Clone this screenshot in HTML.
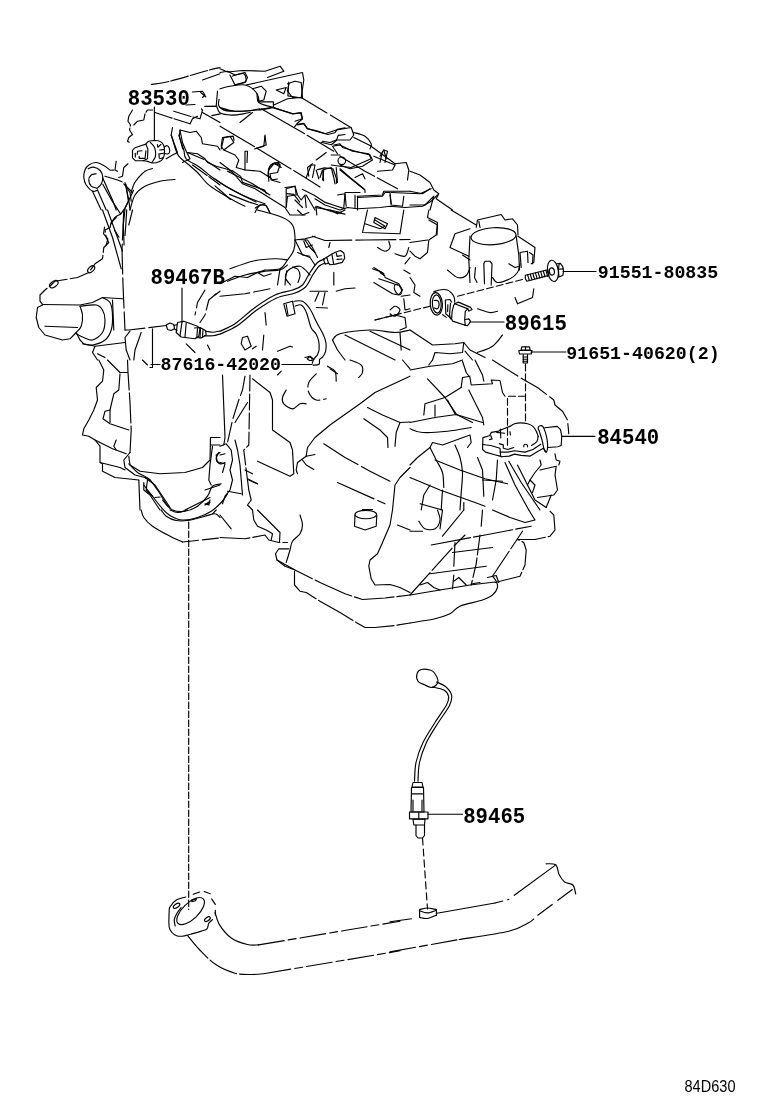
<!DOCTYPE html>
<html><head><meta charset="utf-8"><title>84D630</title>
<style>
html,body{margin:0;padding:0;background:#fff}
body{width:760px;height:1112px;overflow:hidden;position:relative}
svg{position:absolute;left:0;top:0;display:block;will-change:transform}
svg path,svg ellipse,svg line,svg circle{fill:none;stroke:#000;stroke-width:1.15;stroke-linecap:round;stroke-linejoin:round}
.lb{font-family:"Liberation Mono","DejaVu Sans Mono",monospace;font-weight:bold;fill:#000}
.sm{font-family:"Liberation Sans","DejaVu Sans",sans-serif;fill:#000}
</style></head><body>
<svg width="760" height="1112" viewBox="0 0 760 1112">
<g>
<path d="M185.8 897 C184.3 897.5 179.2 898.2 176.6 899.8 C174 901.4 171.3 904.8 170.1 906.7 C168.9 908.6 169.3 907.9 169.2 911.3 C169 914.7 168.7 923.5 169.2 927 C169.7 930.5 170.8 931 172 932.5 C173.2 934 174.9 935.1 176.6 935.7 C178.3 936.3 179.8 936.4 182.1 936.2 C184.4 936 187.2 935.1 190.4 934.3 C193.6 933.4 198.6 932 201.4 931.1 C204.2 930.2 205.8 930.1 207 928.8 C208.2 927.5 207.9 924.8 208.8 923.3 C209.7 921.8 211.9 920.2 212.5 919.6" stroke-width="1.4"/>
<ellipse cx="190.6" cy="911.1" rx="17.6" ry="8" transform="rotate(-44 190.6 911.1)" stroke-width="1.5"/>
<path d="M175.2 926 C175 924.9 174 921.7 174.3 919.6 C174.6 917.5 175.8 915.2 177 913.2 C178.2 911.2 180.5 908.5 181.2 907.6" stroke-width="1.4"/>
<ellipse cx="176.6" cy="905.8" rx="3.7" ry="1.8" transform="rotate(-35 176.6 905.8)"/>
<ellipse cx="207.4" cy="919.1" rx="3.3" ry="1.7" transform="rotate(-35 207.4 919.1)"/>
<path d="M191.8 899.8 L196.4 898.9 L195.5 900.7 L191.8 901.6Z"/>
<path d="M193.2 894.3 L199.6 892" stroke-width="1.4"/>
<path d="M204.2 891.5 L210.2 893.8" stroke-width="1.4"/>
<path d="M211.6 898.9 L215.3 904.4" stroke-width="1.4"/>
<path d="M215.3 910.4 L215.3 915"/>
<path d="M215.1 912.6 C215.9 914.7 217 920.9 219.7 925.1 C222.5 929.4 227 935.1 231.6 938.3 C236.2 941.5 242.9 943.4 247.4 944.5 C251.9 945.6 256.7 944.8 258.6 944.9"/>
<path d="M258.6 944.9 L400 921.2" stroke-dasharray="26 4 8 4"/>
<path d="M187.8 935.7 C189.7 938 194.7 944.6 199.3 949.5 C204 954.3 209.9 960.7 215.8 964.6 C221.7 968.6 228.8 971.5 234.9 973.2 C240.9 974.8 246.9 974.4 252 974.5 C257 974.5 262.9 973.7 265.1 973.5" stroke-dasharray="30 3"/>
<path d="M265.1 973.5 L400 950.8" stroke-dasharray="26 4 8 4"/>
<path d="M390 921.8 L411.6 918.8"/>
<path d="M437 913.2 L495 903"/>
<path d="M495 903 L508.8 899.4" stroke-dasharray="8 5"/>
<path d="M514.3 895.3 L555.8 864.9"/>
<path d="M546.1 863.8 C547.7 863.9 553.6 863.1 555.8 864.9 C558 866.7 557.6 871.7 559.1 874.5 C560.6 877.4 562.3 880.2 564.6 882 C566.9 883.8 571.1 883.1 572.9 885 C574.8 887 575.2 892.4 575.7 893.9"/>
<path d="M390 951.9 L459.1 939.5" stroke-dasharray="26 4 8 4"/>
<path d="M459.1 939.5 C467.4 938.1 497.3 933.9 508.8 931.2 C520.3 928.4 524 924.9 528.2 922.9 C532.3 920.9 532.8 919.7 533.7 919"/>
<path d="M537.8 915.2 L575.1 887.5" stroke-dasharray="18 7"/>
<path d="M419.6 917.4 L419.6 909.6" stroke-width="1.5"/>
<path d="M436.4 915.2 L436.4 909.6" stroke-width="1.5"/>
<path d="M419.6 909.6 C420.9 909.4 424.5 908 427.3 908 C430.1 908 434.9 909.4 436.4 909.6"/>
<path d="M419.6 910.7 C420.9 911.1 424.5 913 427.3 912.9 C430.1 912.9 434.9 910.6 436.4 910.2" stroke-width="1.5"/>
<path d="M419.6 917.4 C420.9 917.6 424.5 918.8 427.3 918.5 C430.1 918.1 434.9 915.7 436.4 915.2" stroke-width="1.5"/>
<path d="M422.5 838 L427.5 909" stroke-dasharray="7 4"/>
<path d="M188.7 522 L188.7 909.5" stroke-dasharray="6.5 2.5"/>
<path d="M417 673.8 C417.5 671.8 419.1 670.1 421.2 669.5 C423.4 668.9 427.8 669.4 430 670 C432.2 670.6 433.2 671.2 434.5 673 C435.8 674.8 437.7 678.5 438 680.5 C438.3 682.5 437.4 683.8 436.2 685 C435.1 686.2 433.3 687.6 431.2 687.5 C429.2 687.4 426 685.5 423.8 684.5 C421.5 683.5 419.1 683 418 681.2 C416.9 679.5 416.5 675.7 417 673.8Z" stroke-width="1.9"/>
<path d="M436.5 682 C438 682.8 443 684.3 445.5 686.5 C448 688.7 450.8 691.8 451.5 695 C452.2 698.2 451.8 700.8 449.5 705.5 C447.2 710.2 441.9 716.8 438 723 C434.1 729.2 429.3 736.4 426.2 743 C423.2 749.6 420.9 756.1 419.5 762.5 C418.1 768.9 418.2 778.1 418 781.2" stroke-width="1.9"/>
<path d="M432.5 687 C434.4 687.5 441.1 688.5 443.8 690 C446.4 691.5 448 693.8 448.5 696.2 C449 698.8 448.8 700.6 446.5 705 C444.2 709.4 438.9 716.2 435 722.5 C431.1 728.8 426.2 735.8 423 742.5 C419.8 749.2 417.4 756 416 762.5 C414.6 769 414.8 778.1 414.5 781.2" stroke-width="1.9"/>
<path d="M413 782.5 L422 782.5 L423 787 L412 787Z" stroke-width="1.9"/>
<path d="M411.5 787.5 L423.5 787.5 L424 812 L411 812Z" stroke-width="1.9"/>
<path d="M412.5 793.8 L422.5 793.8" stroke-width="1.9"/>
<path d="M413 800 L413 811.2" stroke-width="1.9"/>
<path d="M422 800 L422 811.2" stroke-width="1.9"/>
<path d="M409.5 812 L428 812 L428 818.8 L409.5 818.8Z" stroke-width="1.95"/>
<path d="M418.8 812.5 L418.8 818.8" stroke-width="1.9"/>
<path d="M413 819.2 L425 819.2 L424.5 825 L413.8 825Z" stroke-width="1.9"/>
<path d="M416 825 L416 835.5 L418 838 L422.5 838 L424.5 835.5 L424.5 825" stroke-width="1.9"/>
<path d="M428 814.2 L462.5 814.2" stroke-width="1.9"/>
<path d="M154.4 107 L154.4 140.5"/>
<path d="M182 288 L182 322"/>
<path d="M563 271.5 L596 271.5"/>
<path d="M531 352 L566 352" stroke-width="1.95"/>
<path d="M470 322 L504 322" stroke-width="1.65"/>
<path d="M562 436.3 L595 436.3" stroke-width="1.95"/>
<path d="M282 364.5 L312 364.5"/>
<path d="M151 364.5 L160 364.5"/>
<path d="M132.5 150.4 L134.5 148 L140.8 145.7 L145.9 144.1 L147.9 149.2 L147.5 158.7 L143.2 160.7 L135.3 160.7 L132.5 157.9Z" stroke-width="2.0"/>
<path d="M137.2 154.3 L137.6 151.2 L142 150.8" stroke-width="1.6"/>
<path d="M135.3 153.2 L135.3 157.1" stroke-width="1.4"/>
<path d="M139.2 156.3 L139.2 158.3 L145.1 158.3 L145.9 150.8" stroke-width="1.6"/>
<path d="M145.9 144.1 C146.4 143.6 147.6 141.9 148.7 141.3 C149.8 140.8 151.1 140.8 152.6 140.7 C154.2 140.6 156.6 140.3 158.2 140.7 C159.7 141.1 161.1 141.9 162.1 142.9 C163.1 143.9 163.7 145.1 164.1 146.8 C164.5 148.6 164.7 151.2 164.5 153.2 C164.3 155.1 163.7 157.3 162.9 158.7 C162.1 160.1 161.4 160.7 159.7 161.4 C158 162.2 154.7 163 152.6 163 C150.6 163 149.1 161.8 147.5 161.4 C145.9 161.1 143.9 160.8 143.2 160.7" stroke-width="2.0"/>
<path d="M150.3 142.5 C150.9 143.1 153 144.7 153.8 146.1 C154.7 147.4 155.1 149.1 155.4 150.8 C155.7 152.5 155.7 154.7 155.4 156.3 C155.1 157.9 154 159.2 153.4 160.3 C152.8 161.3 152.1 162.2 151.8 162.6" stroke-width="1.5"/>
<path d="M157.4 144.5 L157.8 147.2 L160.9 144.5" stroke-width="1.5"/>
<path d="M159.7 150 L163.7 149.6" stroke-width="1.5"/>
<path d="M158.9 153.9 L159.3 157.9" stroke-width="1.5"/>
<path d="M159.7 153.9 L163.7 153.2" stroke-width="1.5"/>
<path d="M159.7 158.7 L162.9 157.9" stroke-width="1.5"/>
<path d="M164.5 146.8 C164.9 146.6 166.4 145.5 167.2 145.7 C168 145.9 168.8 147 169.2 148 C169.6 149.1 169.8 151 169.6 152 C169.4 153 168.8 153.7 168 153.9 C167.2 154.2 165.4 153.6 164.9 153.6" stroke-width="1.7"/>
<path d="M151.2 84.5 C154.4 84 161 83.5 170 81.2 C179 79 196.7 73.5 205 71.2 C213.3 69 217.5 68.1 220 67.5" stroke-dasharray="18 2"/>
<path d="M202.5 80 L220 73.8"/>
<path d="M132.5 110 L128.8 116.2 L128 121.2 L130.5 125 L129.5 130 L132.5 134.5 L128.8 137.5 L127.5 141.2 L130.5 143" stroke-dasharray="18 2"/>
<path d="M133.8 125 L137.5 121.2 L143.8 120 L145 113.8 L147.5 110 L152.5 110" stroke-dasharray="18 2"/>
<path d="M192.5 92 L202.5 91.2 L205 95 L202.5 97.5"/>
<path d="M186.2 105 L195 104.5"/>
<path d="M205 106.2 L216.2 106.2 L217.5 91.2"/>
<path d="M155 112.5 L170 117.5 L190 123.8" stroke-dasharray="18 2"/>
<path d="M173.8 111.2 L190 116.2 L200 118.8 L202.5 110 L200 107.5" stroke-dasharray="18 2"/>
<path d="M190 123.8 L192.5 118.8 L197.5 116.2"/>
<path d="M172.5 127.5 L171.2 135 L173.8 142.5 L177.5 152.5 L172.5 155 L166.2 158.8"/>
<path d="M180 130 L190 132.5 L196.2 131.2 L201.2 137.5 L202.5 143.8 L210 145 L217.5 146.2 L220 150"/>
<path d="M180 130.5 L182.5 142.5 L186.2 151.2 L190 158.8 L182.5 162.5"/>
<path d="M187.5 152.5 L205 160 L220 170" stroke-dasharray="18 2"/>
<path d="M192.5 165 L210 177.5 L220 185" stroke-dasharray="18 2"/>
<path d="M202.5 112.5 L220 122.5"/>
<path d="M113.8 170 C113.1 170 111.5 170.6 110 170 C108.5 169.4 107.3 167.5 105 166.2 C102.7 165 99 162.7 96.2 162.5 C93.5 162.3 90.6 163.8 88.8 165 C86.9 166.2 85.8 167.9 85 170 C84.2 172.1 83.5 175 83.8 177.5 C84 180 84.8 182.7 86.2 185 C87.7 187.3 90.6 190.4 92.5 191.2 C94.4 192.1 96.7 190.2 97.5 190"/>
<path d="M96.2 173.8 C95.4 174 92.5 174 91.2 175 C90 176 88.8 178.1 88.8 180 C88.8 181.9 90 184.9 91.2 186.2 C92.5 187.6 95.4 187.7 96.2 188"/>
<path d="M92.5 191.2 L101.2 210"/>
<path d="M97.5 190 L106.2 210"/>
<path d="M102.5 177.5 L112.5 200 L116.2 210"/>
<path d="M105 176.2 L117.5 180 L123.8 182.5" stroke-dasharray="18 2"/>
<path d="M125 182.5 L128.8 200 L130 210"/>
<path d="M123.8 183.8 L132.5 192.5"/>
<path d="M116.2 161.2 L115 170 L117.5 171.2"/>
<path d="M128 163.8 L123.8 167.5 L122.5 176.2 L118.8 177.5"/>
<path d="M130 210 C130.8 207.5 132.5 199 135 195 C137.5 191 140.8 188.5 145 186.2 C149.2 184 155 182.4 160 181.2 C165 180.1 172.5 179.8 175 179.5"/>
<path d="M220 126.2 L253.8 146.2 L305 177.5 L320 187" stroke-dasharray="40 3"/>
<path d="M261.2 108.8 L302.5 132.5 L333.8 151.2" stroke-dasharray="50 3"/>
<path d="M340 156.2 L365 171.2 L397.5 188.8" stroke-dasharray="40 3"/>
<path d="M301.2 97.5 L350 127" stroke-dasharray="30 4"/>
<path d="M353.8 137.5 L370 145.5 L390 160 L395 163.8"/>
<path d="M220 72.5 L227.5 71.2 L235 75 L245 72.5 L247.5 77.5 L245 82.5 L235 85 L232.5 80 L230 75"/>
<path d="M220 68.8 L227.5 72 L242.5 70.5 L265 71.2 L280 66.2 L283.8 71.2 L267.5 77.5"/>
<path d="M246.2 85 L302.5 72.5 L303.8 80 L301.2 97.5"/>
<path d="M287.5 83.8 L295 81.2 L301.2 82.5 L302.5 97.5 L292.5 97.5 L287.5 91.2 L288.8 83.8"/>
<path d="M276.2 90 L286.2 87.5 L283.8 93.8 L278.8 91.2Z"/>
<path d="M252.5 88.8 L261.2 86.2 L266.2 91.2 L263.8 100 L258.8 101.2 L257.5 93.8"/>
<path d="M220 88.8 C221.7 88.3 225.8 86.9 230 86.2 C234.2 85.6 240.6 84 245 85 C249.4 86 254 89.6 256.2 92.5 C258.5 95.4 255.8 100 258.8 102.5 C261.7 105 271.2 106.7 273.8 107.5"/>
<path d="M273.8 107.5 C271 107.9 264 109.4 257.5 110 C251 110.6 241.2 111.7 235 111.2 C228.8 110.8 222.5 108.1 220 107.5"/>
<path d="M273.8 105 L287.5 98.8 L301.2 97.5"/>
<path d="M273.8 107.5 L292.5 113.8 L301.2 112.5 L302.5 118.8 L295 121.2"/>
<path d="M240 122.5 L252.5 112.5"/>
<path d="M297.5 125 L303.8 123.8 L307.5 128.8 L325 133.8 L336.2 130 L351.2 127.5 L353.8 135 L350 140 L336.2 140 L330 142.5 L322.5 141.2"/>
<path d="M353.8 132.5 C355.6 133.1 362.1 134.4 365 136.2 C367.9 138.1 370.4 141.7 371.2 143.8 C372.1 145.8 370.2 147.9 370 148.8"/>
<path d="M333.8 145 L340 143.8 L342.5 147.5 L360 152.5 L370 155 L372.5 160 L362.5 166.2 L350 168.8 L340 165"/>
<ellipse cx="341.8" cy="160.8" rx="3.8" ry="3.8" transform="rotate(0 341.8 160.8)"/>
<path d="M331.2 155 L340 155"/>
<path d="M383.8 150 L386.2 158.8"/>
<path d="M382.5 151.2 L380 162.5"/>
<path d="M373.8 156.2 L395 165"/>
<path d="M395 163.8 L406.2 162.5 L408.8 170 L407.5 180"/>
<path d="M377.5 171.2 L392.5 170 L395 165"/>
<path d="M222.5 137.5 L230 136.2 L233.8 142.5 L223.8 150 L221.2 146.2Z"/>
<path d="M223.8 150 L235 155 L238.8 160 L236.2 167.5 L245 170 L245 151.2 L247.5 151.2 L247 162.5"/>
<path d="M265 136.2 L266.2 145 L255 148.8"/>
<path d="M268.8 170 L273.8 163.8 L280 165 L277.5 172.5 L270 173.8 L271.2 180 L280 182.5"/>
<path d="M245 170 L260 171.2 L270 177.5"/>
<path d="M227.5 171.2 L240 177.5 L252.5 183.8 L270 195"/>
<path d="M220 162.5 L230 170"/>
<path d="M285 187.5 L295 186.2 L296.2 195 L287.5 196.2 L286.2 207.5"/>
<path d="M306.2 177.5 L311.2 165 L315 165 L312.5 177.5"/>
<path d="M316.2 160 L326.2 152.5"/>
<path d="M320 177.5 L322.5 170 L331.2 167.5 L333.8 177.5 L335 183.8"/>
<path d="M336.2 167.5 L337.5 182.5"/>
<path d="M306.2 195 L315 210"/>
<path d="M295 200 L302.5 207.5"/>
<path d="M337.5 195 L345 193.8 L343.8 207.5"/>
<path d="M340 170 L365 190 L365 192.5"/>
<path d="M355 177.5 L362.5 173.8 L365 178.8"/>
<path d="M345 192.5 L360 192.5"/>
<path d="M357.5 196.2 L382.5 195 L383.8 191.2 L410 191.2"/>
<path d="M357.5 196.2 L357.5 210"/>
<path d="M390 195 L391.2 205 L402.5 206.2 L403.8 196.2"/>
<path d="M131 193 C131.5 191.5 132.9 186.4 134 184 C135.1 181.6 135.8 180.8 137.6 178.7 C139.4 176.6 142.5 173 145 171.3 C147.5 169.6 151.2 169 152.4 168.5"/>
<path d="M171.2 135 C171.9 137.1 173.8 144 175 147.5 C176.2 151 176.7 153.5 178.8 156.2 C180.8 159 184.4 161 187.5 163.8 C190.6 166.5 194.2 169.2 197.5 172.5 C200.8 175.8 203.8 180.4 207.5 183.8 C211.2 187.1 215.4 189.6 220 192.5 C224.6 195.4 230.8 199 235 201.2 C239.2 203.5 243.3 205.4 245 206.2"/>
<path d="M178.8 135 C179.6 137.5 182.5 146 183.8 150 C185 154 183.5 155.8 186.2 158.8 C189 161.7 195.6 164.4 200 167.5 C204.4 170.6 207.5 174 212.5 177.5 C217.5 181 224.6 185.6 230 188.8 C235.4 191.9 240.4 194.2 245 196.2 C249.6 198.3 254.2 200 257.5 201.2 C260.8 202.5 263.8 203.3 265 203.8"/>
<path d="M187.5 152.5 L197.5 153.8 L205 158.8 L207.5 162.5 L216.2 166.2 L230 170 L235 175 L242.5 183.8 L255 188.8 L265 195 L275 201.2 L285 207.5 L290 215 L305 215"/>
<path d="M268.8 181.2 C268.8 179.4 268.1 172.9 268.8 170 C269.4 167.1 270.8 165 272.5 163.8 C274.2 162.5 277.7 162.7 278.8 162.5"/>
<path d="M275 163.8 L281.2 167.5"/>
<path d="M286.2 206.2 L286.2 188.8 L295 186.2 L297.5 195 L301.2 200 L305 195 L306.2 207.5"/>
<path d="M308.8 176.2 L307.5 167.5 L312.5 163.8"/>
<path d="M265 135 L263.8 146.2 L255 148.8"/>
<path d="M255 212.5 C255.6 211.5 257.1 207.5 258.8 206.2 C260.4 205 263.1 204 265 205 C266.9 206 269.2 211.2 270 212.5"/>
<path d="M227.5 281.2 C230.4 280.2 238.8 276.7 245 275 C251.2 273.3 259.2 272.1 265 271.2 C270.8 270.4 276.2 271 280 270 C283.8 269 286.2 265.8 287.5 265"/>
<path d="M295 240 L305 238.8 L315 236.2"/>
<path d="M305 240 L310 247.5 L315 252.5"/>
<path d="M297.5 252.5 L310 257.5 L315 265"/>
<path d="M285 285 C285.4 282.7 285 274.4 287.5 271.2 C290 268.1 296.2 265.6 300 266.2 C303.8 266.9 308.3 273.5 310 275"/>
<path d="M125 185 L130 192.5 L131.2 201.2"/>
<path d="M315 198.8 L325 205 L340 210 L347.5 207.5 L357.5 208.8 L380 207.5 L390 206.2 L405 207.5 L422.5 206.2 L431.2 201.2 L437.5 195"/>
<path d="M315 207.5 L330 210 L341.2 212.5"/>
<path d="M357.5 197.5 L382.5 196.2 L385 192.5 L390 192.5 L391.2 203.8"/>
<path d="M345 193.8 L346.2 206.2"/>
<path d="M355 195 L355 207.5"/>
<path d="M316.2 170 L318.8 178.8"/>
<path d="M323.8 170 L322.5 180"/>
<path d="M331.2 165 L340 166.2 L351.2 167.5 L362.5 162.5 L371.2 158.8 L368.8 153.8 L352.5 151.2 L340 145 L332.5 146.2 L337.5 153.8"/>
<path d="M340 168.8 L350 177.5 L363.8 188.8"/>
<path d="M380 156.2 L383.8 150 L387.5 151.2 L385 162.5"/>
<path d="M391.2 192.5 L420 193.8 L431.2 188.8"/>
<path d="M375 217.5 L387.5 223.8 L385 228.8 L373.8 222.5Z"/>
<path d="M428.8 220 L437.5 225 L437 235"/>
<path d="M373.8 267.5 L383.8 273.8"/>
<path d="M378.8 278.8 L397.5 285"/>
<path d="M219.1 99.3 C219 100.3 218 103.6 218.6 105.3 C219.2 107 220.5 108.6 222.9 109.6 C225.3 110.6 229.2 111.1 233.2 111.3 C237.1 111.5 242.4 111.4 246.8 111 C251.3 110.5 257.5 109.1 259.7 108.8"/>
<path d="M216.9 107 C217.5 108 217.9 111.7 220.3 113 C222.8 114.4 227.6 114.9 231.4 115.1 C235.3 115.2 240.3 114.4 243.4 113.9 C246.6 113.4 249.1 112.5 250.3 112.2"/>
<path d="M258.5 96.8 L258.8 101.9 L273.4 101.9 L273.4 107 L259.7 109.6"/>
<path d="M204.9 106.5 L216.9 106.2"/>
<path d="M211.8 115.6 L220.3 113.9"/>
<path d="M232.3 76.2 C234 75.8 240.4 73.3 242.6 73.3 C244.8 73.3 244.9 74.9 245.5 76.2 C246 77.6 246.6 80.2 246 81.4 C245.4 82.5 243.6 82.5 241.7 83.1 C239.9 83.7 236 84.5 234.9 84.8"/>
<path d="M273.4 107.9 L293 113.9 L300.7 113 L302.4 119 L297.3 123.3 L294.7 126.7"/>
<path d="M200.7 92.5 L205.8 96.8"/>
<path d="M180.1 130.1 L179.3 136.1 L182.7 148.9"/>
<path d="M221.2 148.9 L223.8 137.8 L233.2 136.1 L234 140.4"/>
<path d="M288.8 82.2 L287.9 95.9 L301.6 98"/>
<path d="M88.2 168.8 C89.1 168.5 91.4 166.8 93.4 167.1 C95.4 167.4 98.6 168.8 100.2 170.5 C101.8 172.2 102.6 175.1 102.8 177.4 C102.9 179.6 102.1 182.4 101.1 184.2 C100.1 186.1 97.5 187.8 96.8 188.5"/>
<path d="M102.8 184.2 L111.3 199.6 L120.7 214.1 L125 208.2 L133.6 190.2"/>
<path d="M125.9 184.2 L128.4 201.3 L125 208.2"/>
<path d="M120.7 214.1 C119.7 214.7 116.3 216 114.7 217.6 C113.2 219.1 111.9 222.6 111.3 223.6"/>
<path d="M125 209 L123.3 225.3 L124.1 244.9"/>
<path d="M126.7 209.9 L125.9 223.6 L125 235.5"/>
<path d="M104.5 227 L103.6 233.8 L107.9 238.9 L106.2 244.9"/>
<path d="M114.7 230.4 L119 237.2"/>
<path d="M228.7 171.3 L232.1 170.5 L240.7 176.4 L242.4 182.4 L252.6 185.9 L264.6 190.1 L266.3 193.6"/>
<path d="M215 179 L225.3 185.9 L242.4 195.3 L256.1 202.1"/>
<path d="M215 185.9 L221.8 191.8 L230.4 199.5"/>
<path d="M229.5 194.4 L249.2 202.1 L257.8 204.7"/>
<path d="M255.2 208.1 L260.3 204.7 L266.3 205.5 L269.7 212.4"/>
<path d="M268 176.4 C268.2 175 268 170 268.9 167.9 C269.7 165.8 271.4 164.3 273.2 163.6 C274.9 162.9 278 163 279.1 163.6 C280.3 164.2 279.9 166.5 280 167"/>
<path d="M268.9 176.4 L272.3 179.9 L277.4 179"/>
<path d="M286.8 193.6 L293.7 194.4 L297.1 198.7 L299.7 202.1"/>
<path d="M317.6 169.6 L324.5 167.9 L333 168.8 L336.4 178.2 L336.4 183.3"/>
<path d="M322.8 171.3 L323.6 180.7"/>
<path d="M302.2 189.3 L314.2 195.3 L324.5 202.1 L334.7 205.5 L345 208.9"/>
<path d="M315.9 206.4 L316.8 214.9"/>
<path d="M316.8 206.4 L331.3 211.5 L345 214.1"/>
<path d="M321.1 142.2 L331.3 144.8 L336.4 140.5 L338.2 135.4 L345 134.5"/>
<path d="M297.1 124.3 L303.9 123.4 L307.4 128.6 L317.6 131.1 L327.9 134.5 L334.7 132.8 L337.3 129.4 L345 127.7"/>
<path d="M410 171.2 L420 175 L430 182.5 L433.8 190 L438.8 193.8 L436.2 198.8 L452.5 210"/>
<path d="M410 191.2 L422.5 193.8 L430 188.8"/>
<path d="M410 205 L425 205 L433.8 196.2 L430 210"/>
<path d="M102.5 210 L112.5 237.5 L121.2 268.8"/>
<path d="M107.5 210 L122.5 251.2"/>
<path d="M123.8 210 L122 250 L123 285 L125 330" stroke-dasharray="30 4"/>
<path d="M132.5 210 L128.8 225"/>
<path d="M116.2 217.5 L111.2 222.5 L110 227.5 L105 230 L106.2 237.5 L108.8 242.5 L103.8 247.5 L102.5 258.8 L95 263.8 L88.8 272.5 L77.5 277.5 L62.5 280 L55 281.2 L51.2 285 L45 290 L40 295 L40 301.2 L42.5 304.5" stroke-dasharray="20 3"/>
<ellipse cx="91.2" cy="269.2" rx="4.2" ry="2.5" transform="rotate(-45 91.2 269.2)"/>
<ellipse cx="53.8" cy="284.2" rx="4.8" ry="2.8" transform="rotate(-35 53.8 284.2)"/>
<path d="M42.5 304.5 L80 305 L92.5 302.5 L102.5 297.5 L122.5 298.8"/>
<path d="M42.5 305 L37.5 307.5 L36.2 317.5 L38.8 327.5 L45 335 L62.5 340 L70 338.8 L76.2 332.5"/>
<path d="M80 306.2 C80.4 307.7 82.3 311.7 82.5 315 C82.7 318.3 82.3 323.3 81.2 326.2 C80.2 329.2 77.1 331.5 76.2 332.5"/>
<path d="M80 306.2 C82.7 306 92.5 304.4 96.2 305 C100 305.6 101 307.5 102.5 310 C104 312.5 105 316.2 105 320 C105 323.8 104.6 329.2 102.5 332.5 C100.4 335.8 95.6 339.2 92.5 340 C89.4 340.8 86.5 338.5 83.8 337.5 C81 336.5 77.5 334.4 76.2 333.8"/>
<path d="M45 326.2 L77.5 327.5"/>
<path d="M102.5 297.5 C103.8 298.3 108.3 299.6 110 302.5 C111.7 305.4 112.3 310.4 112.5 315 C112.7 319.6 112.5 325.8 111.2 330 C110 334.2 108.1 337.5 105 340 C101.9 342.5 96.2 344.4 92.5 345 C88.8 345.6 84.2 344 82.5 343.8"/>
<path d="M112.5 300 L113.8 330"/>
<path d="M76.2 332.5 L80 340 L83.8 343.8 L95 346.2 L92.5 352.5 L97.5 360"/>
<path d="M125 330 L128.8 330 L166.2 325.5" stroke-dasharray="20 4"/>
<path d="M130 331.2 L125 337.5 L126.2 350 L130 360"/>
<path d="M141.2 332.5 L135 350 L133.8 360"/>
<path d="M152.5 328.8 L152.5 360"/>
<path d="M95 346.2 L125 342.5"/>
<path d="M97.5 353.8 L105 357.5"/>
<path d="M166.2 325 L170 323 L173.8 324.5 L174.5 328.8 L171.2 330.5 L167.5 329.5Z" stroke-width="1.85"/>
<path d="M174 325.5 L177.5 324.5"/>
<path d="M174.5 329 L177 330.5"/>
<path d="M177.5 322.5 L183.8 321.2 L197.5 326.2 L200 328.8 L198.8 336.2 L195 338.8 L181.2 337 L176.2 332.5Z" stroke-width="1.95"/>
<path d="M182 321.8 L180 335.8"/>
<path d="M186.2 323 L185 337" stroke-width="1.65"/>
<path d="M194.5 328 L200 327.5 L205.5 330.5 L206.2 335 L201.2 338 L196.2 337.5" stroke-width="1.85"/>
<path d="M197.5 328.5 L196.8 337.5"/>
<path d="M200.5 328 L200 338"/>
<path d="M203 329.5 L202.5 337.5"/>
<path d="M205.5 331.2 C206.7 331.4 210.1 332.3 212.5 332.2 C214.9 332.2 218.8 331.2 220 331" stroke-width="1.55"/>
<path d="M204.5 335.8 C205.9 335.8 210.4 336 213 335.8 C215.6 335.5 218.8 334.3 220 334" stroke-width="1.55"/>
<path d="M205 290 L197.5 302.5 L195 315" stroke-dasharray="20 4"/>
<path d="M216.2 293.8 L208.8 300 L205 315 L200 322.5" stroke-dasharray="20 4"/>
<path d="M215 295 L220 291.2"/>
<path d="M186.2 343.8 L195 352.5"/>
<path d="M207.5 345 L210 350"/>
<path d="M220 331.2 C222.5 330 229.2 327.7 235 323.8 C240.8 319.8 248.3 312.3 255 307.5 C261.7 302.7 268.8 297.9 275 295 C281.2 292.1 287.9 291.7 292.5 290 C297.1 288.3 299.6 287.9 302.5 285 C305.4 282.1 307.5 276.2 310 272.5 C312.5 268.8 315 264.8 317.5 262.5 C320 260.2 323.8 259.4 325 258.8" stroke-width="1.55"/>
<path d="M220 334.2 C222.9 332.8 231.2 329.6 237.5 325.5 C243.8 321.4 251 314 257.5 309.5 C264 305 270 301 276.2 298.2 C282.5 295.5 290.1 294.9 295 293 C299.9 291.1 302.5 290.1 305.5 287 C308.5 283.9 310.7 278 313 274.5 C315.3 271 317.2 267.9 319.2 266 C321.2 264.1 324 263.5 325 263" stroke-width="1.55"/>
<path d="M323.4 259 L326.8 257.3 L328.5 263.3 L325.1 264.1Z" stroke-width="1.6"/>
<path d="M326.8 257.3 L331.9 253.9 L335.3 252.2 L340.5 250.5 L343.9 253 L344.7 258.2 L342.2 262.4 L335.3 264.1 L330.2 264.7 L328.5 263.3" stroke-width="1.85"/>
<path d="M331.9 254.4 L333.6 263.6" stroke-width="1.4"/>
<path d="M336.2 253 L337 256.4 L341.3 255.6"/>
<path d="M337 259.4 L342.2 259"/>
<path d="M283.8 303.8 L292.5 301.2 L295 313.8 L287 316.2Z" stroke-width="1.85"/>
<path d="M286.2 304.5 L288 315"/>
<path d="M293.8 301.2 C295.2 301.2 299.8 300 302.5 301.2 C305.2 302.5 307.6 305.4 310 309 C312.4 312.6 314.8 318.8 317 323 C319.2 327.2 321.5 330.7 323 334 C324.5 337.3 325.6 340.1 326 343 C326.4 345.9 326.1 349 325.6 351.3 C325.1 353.6 323.8 355.4 322.8 356.8 C321.8 358.2 320.2 358.4 319.6 359.6 C319 360.8 320.2 363.3 319.1 364.2 C318 365.1 314.2 365 313.2 365.1" stroke-width="1.55"/>
<path d="M295 306.2 C296 306 299.4 304 301.2 305 C303.1 306 304.6 308.3 306.2 312 C307.9 315.7 309.4 323.8 311 327.4 C312.6 331 314.6 331.5 315.9 333.8 C317.2 336.1 318.2 338.6 318.7 341.2 C319.2 343.8 319.3 347.2 319.1 349.5 C318.9 351.8 318.1 353.5 317.3 355 C316.5 356.5 315 357.3 314.1 358.7 C313.2 360.1 312.5 362.5 312.2 363.3" stroke-width="1.55"/>
<path d="M307.2 358.7 L309.5 356.8 L311.8 357.8 L312.2 360.5 L309.5 360.5Z" stroke-width="1.5"/>
<path d="M257.5 210 C261.7 211.2 276.7 215 282.5 217.5 C288.3 220 290.4 221.7 292.5 225 C294.6 228.3 294.8 233.3 295 237.5 C295.2 241.7 295 246.2 293.8 250 C292.5 253.8 289.8 256.9 287.5 260 C285.2 263.1 283.8 267.1 280 268.8 C276.2 270.4 267.5 269.8 265 270"/>
<path d="M230 268.8 C233.8 267.5 245 262.9 252.5 261.2 C260 259.6 269.2 259 275 258.8 C280.8 258.5 285.4 259.8 287.5 260"/>
<path d="M220 283.8 L235 276.2 L247.5 277.5 L257.5 272.5 L265 270"/>
<path d="M257.5 272.5 L263.8 276.2 L271.2 273.8"/>
<path d="M220 296.2 L245 293.8 L270 288.8" stroke-dasharray="30 4"/>
<path d="M280 268.8 L277.5 285"/>
<path d="M287 270.5 C286.8 271.8 284.9 275.6 285.5 278 C286.1 280.4 289.7 283.8 290.5 285"/>
<path d="M292.5 267 C293.4 267.4 296.8 268.1 298 269.5 C299.2 270.9 300 273.3 300 275.5 C300 277.7 298.3 281.3 298 282.5"/>
<path d="M295 240 L302.5 255 L310 256.2"/>
<path d="M297.5 239.5 L307.5 240 L312.5 247.5 L317.5 257.5"/>
<path d="M303.8 241.2 L306.2 247.5 L312.5 245"/>
<path d="M312.5 236.2 L325 240.5 L365 240 L410 239.5" stroke-dasharray="40 4"/>
<path d="M330 242.5 L328.8 247.5"/>
<path d="M333.8 272.5 L333.8 285"/>
<path d="M310 291.2 L327.5 291.2"/>
<path d="M318.8 292.5 L315 301.2"/>
<path d="M325 292.5 L322.5 305"/>
<path d="M316.2 307.5 L327.5 308"/>
<path d="M336.2 291.2 L345 288.8 L355 288"/>
<path d="M367.5 210 L362.5 232.5 L400 233.8 L403.8 210"/>
<path d="M365 223.8 L380 228.8 L385 226.2 L375 220"/>
<path d="M297.5 210 L302.5 215 L308.8 212.5"/>
<path d="M330 210 L337.5 213.8 L345 210"/>
<path d="M377.5 247.5 C378.8 248.1 382.9 251.2 385 251.2 C387.1 251.2 389.4 249.2 390 247.5 C390.6 245.8 389 242.3 388.8 241.2"/>
<path d="M395 253.8 C396.7 254.2 402.7 257.3 405 256.2 C407.3 255.2 408.1 249 408.8 247.5"/>
<path d="M405 263.8 L410 257.5"/>
<path d="M403.8 270 L410 273.8"/>
<path d="M372.5 268.8 L382.5 272.5 L385 276.2 L380 272.5"/>
<path d="M373.8 282.5 L392.5 293.8 L398.8 295 L402.5 290 L398.8 283.8 L385 277.5"/>
<ellipse cx="398" cy="289.5" rx="3.2" ry="5.5" transform="rotate(-25 398 289.5)"/>
<path d="M401.2 296.2 L410 295"/>
<path d="M390 310 C390.8 309.4 393.3 306.2 395 306.2 C396.7 306.2 400 308.3 400 310 C400 311.7 396.7 315.6 395 316.2 C393.3 316.9 390.8 314.2 390 313.8"/>
<path d="M403.8 298.8 L405 310 L410 308.8"/>
<path d="M375 320 L395 315 L405 317.5 L406.2 327.5 L400 330"/>
<path d="M332.5 340 C333.8 339 333.8 335.4 340 333.8 C346.2 332.1 360.8 330.2 370 330 C379.2 329.8 388.3 332.5 395 332.5 C401.7 332.5 407.5 330.4 410 330"/>
<path d="M332.5 340 L337.5 350 L345 360"/>
<path d="M345 335 L375 350 L395 360"/>
<path d="M370 331.2 L410 350"/>
<path d="M400 332.5 L401.2 350"/>
<path d="M265 312.5 L266.2 325"/>
<path d="M242.5 337.5 L247.5 336.2 L251.2 346.2 L245 350 L241.2 343.8Z"/>
<path d="M263.8 335 L262.5 350"/>
<path d="M252.5 348.8 L256.2 346.2"/>
<path d="M277.5 351.2 L290 346.2 L292.5 347"/>
<path d="M305 357.5 L310 356.2 L313.8 359.5"/>
<ellipse cx="493.5" cy="236.2" rx="22.5" ry="8.5" transform="rotate(-4 493.5 236.2)"/>
<path d="M470 236.2 L468.8 260 L470 282.5"/>
<path d="M516.2 236.2 L518.8 255 L519.5 270"/>
<path d="M451.2 210 L476.2 225"/>
<path d="M476.2 227.5 L477.5 220 L501.2 214.5 L505 220 L512.5 218.8 L517.5 225 L518 235"/>
<path d="M478.8 221.2 L480 227.5"/>
<path d="M518 236.2 L535 247.5 L533.8 262.5 L531.2 263.8"/>
<path d="M470 228.8 L455 233.8 L450 247.5 L468.8 256.2"/>
<path d="M447.5 270 C449.2 271.2 454.4 276.6 457.5 277.5 C460.6 278.4 464.2 277.2 466.2 275.5 C468.3 273.8 469.4 268.8 470 267.5"/>
<path d="M462.5 255 L470 260"/>
<path d="M484.5 283.8 L483.8 263.8 L485 261.2 L490 261.2 L492 263.8 L491.2 285"/>
<path d="M475.5 267.5 L474.5 277.5 L477 282.5"/>
<path d="M492.5 277.5 C493.3 278.3 494.6 282.3 497.5 282.5 C500.4 282.7 506.7 280.4 510 278.8 C513.3 277.1 515.8 275 517.5 272.5 C519.2 270 519.6 265.2 520 263.8"/>
<path d="M508.8 263.8 L515 267.5 L519.5 266.2"/>
<path d="M521.2 267.5 L520 252.5 L527.5 251.2 L528 262.5"/>
<path d="M529.5 252.5 L533 255 L532.5 263.8"/>
<path d="M533.8 288.8 L532.5 297.5 L517.5 303.8 L515 297.5"/>
<path d="M477.5 308.8 C479.6 309.4 486.7 312.1 490 312.5 C493.3 312.9 496.2 311.5 497.5 311.2"/>
<path d="M457.5 296.2 L525 278.8" stroke-dasharray="7 3"/>
<path d="M375 320 L430 306.2" stroke-dasharray="7 3"/>
<path d="M525.3 275.3 L547.8 269.7 L548.9 275.4 L526.8 281.2 L525.3 278.4Z" stroke-width="1.9"/>
<path d="M527.6 274.8 L529.4 280.5" stroke-width="1.5"/>
<path d="M530.2 274.2 L532 279.8" stroke-width="1.5"/>
<path d="M532.8 273.5 L534.6 279.2" stroke-width="1.5"/>
<path d="M535.4 272.9 L537.2 278.6" stroke-width="1.5"/>
<path d="M538.1 272.3 L539.8 277.9" stroke-width="1.5"/>
<path d="M540.7 271.6 L542.4 277.3" stroke-width="1.5"/>
<path d="M543.3 271 L545 276.7" stroke-width="1.5"/>
<path d="M545.9 270.4 L547.6 276.1" stroke-width="1.5"/>
<ellipse cx="551.9" cy="271.5" rx="2.5" ry="3.6" transform="rotate(-8 551.9 271.5)" stroke-width="1.8"/>
<ellipse cx="552.9" cy="270.9" rx="5.4" ry="10.7" transform="rotate(-8 552.9 270.9)" stroke-width="1.7"/>
<path d="M556.8 263.8 L560.4 263.4 L562.8 266.6 L563.6 271.3 L562.8 275.3 L560.4 276.4 L558 277.2" stroke-width="1.9"/>
<path d="M558.3 269.3 L563.2 268.9" stroke-width="1.4"/>
<path d="M559.2 263.6 L558.4 269.3 L558.9 276.4" stroke-width="1.3"/>
<ellipse cx="436.3" cy="303.9" rx="6.1" ry="11.3" transform="rotate(-4 436.3 303.9)" stroke-width="2.1"/>
<ellipse cx="436.8" cy="304" rx="4.4" ry="9.1" transform="rotate(-4 436.8 304)" stroke-width="1.2"/>
<path d="M434.2 300.5 C434.7 300.5 436.6 300.2 437.4 300.5 C438.2 300.9 438.7 301.6 438.9 302.6 C439.2 303.7 439.1 305.8 438.7 306.8 C438.4 307.9 437.6 308.8 436.8 308.9 C436.1 309.1 434.6 308.1 434.2 307.9" stroke-width="1.5"/>
<path d="M433.7 291.8 C434.9 291.4 438.8 290 441.1 289.7 C443.3 289.4 445.6 289.4 447.4 290 C449.1 290.6 450.4 291.9 451.6 293.2 C452.7 294.4 453.7 295.9 454.2 297.4 C454.7 298.9 454.6 301.3 454.7 302.1" stroke-width="2.0"/>
<path d="M451.6 302.1 L450 299.5 L445.3 300 L445.8 313.7 L451.6 318.9" stroke-width="1.6"/>
<path d="M442.6 314.7 L446.3 317.4" stroke-width="1.5"/>
<path d="M454.7 303.7 L458.4 302.1 L470.5 307.4 L472.1 309.5 L468.9 311.1 L467.4 308.4" stroke-width="1.8"/>
<path d="M454.7 303.7 L467.9 308.9 L465.3 311.1 L464.7 320 L465.3 325.3 L452.6 321.1 L451.6 318.9 L452.1 311.6 L453.7 305.3Z" stroke-width="1.9"/>
<path d="M465.3 319.5 L468.9 318.9 L470.5 321.1 L469.5 323.2 L467.4 325.8 L464.7 325.3" stroke-width="1.7"/>
<path d="M450.5 303.2 L449.5 314.7 L450.5 318.9" stroke-width="1.3"/>
<path d="M447.9 304.7 L447.6 311.6"/>
<path d="M428.8 210 L427.5 217.5 L437.5 222.5 L436.2 235 L428.8 240 L427.5 252.5 L420 258.8 L415 256.2 L410 251.2"/>
<path d="M410 242.5 L427.5 240"/>
<path d="M410 277.5 L415 285 L413.8 292.5 L420 296.2"/>
<path d="M410 330 L432.5 345 L455 343.8 L463.8 342.5 L470 350 L485 357.5"/>
<path d="M463.8 342.5 L462.5 352.5 L450 353.8 L435 352.5 L432.5 360"/>
<path d="M465 351.2 L472.5 360"/>
<path d="M502.5 335 C500.8 336.9 496.7 343.3 492.5 346.2 C488.3 349.2 480 351.5 477.5 352.5"/>
<path d="M521.8 346.8 L529.5 346.8 L530.2 350 L521 350Z" stroke-width="1.85"/>
<path d="M525.5 346.8 L525.5 350"/>
<path d="M518.8 350.5 L532 350.5 L531.2 354 L519.5 354Z" stroke-width="1.95"/>
<path d="M523.2 354.5 L523.2 363 L527.5 363 L527.5 354.5" stroke-width="1.65"/>
<path d="M523.2 357 L527.5 357"/>
<path d="M523.2 359.2 L527.5 359.2"/>
<path d="M523.2 361.2 L527.5 361.2"/>
<path d="M98.8 360 L103.8 370 L102.5 381.2 L96.2 387.5 L97.5 400 L93.8 410 L88.8 420 L83.8 428.8 L82.5 435 L88.8 436.2 L95 440 L100 446.2 L100 462.5 L102.5 463.8 L102.5 471.2 L115 477.5 L138.8 480"/>
<path d="M95 440 L112.5 448.8 L126.2 453.8"/>
<path d="M100 462.5 L120 467.5 L125 470"/>
<path d="M116.2 440 L113.8 446.2 L116.2 450"/>
<path d="M107.5 360 L120 372.5 L127.5 372.5"/>
<path d="M120 373.8 L118.8 390 L113.8 393.8 L110 410 L105 411.2 L103 418.8 L110 423.8 L128.8 430"/>
<path d="M110 410 L110 422.5"/>
<path d="M127.5 360 L128 372.5 L130 402.5 L131.2 430 L130 452.5" stroke-dasharray="30 3"/>
<path d="M130 452.5 L123.8 460 L125 467.5 L135 475 L145 477.5 L150 480"/>
<path d="M128.8 456.2 L130 465 L140 471.2 L160 473.8 L185 472.5 L202.5 467.5 L210 460 L210.5 437.5 L220 437.5"/>
<path d="M138.8 480 L140 510"/>
<path d="M143.8 482.5 L143.8 490 L150 495 L160 510"/>
<path d="M147.5 480 L146.2 490 L152.5 496.2"/>
<path d="M145 477.5 L155 485 L170 507.5"/>
<path d="M155 497.5 L160 497"/>
<path d="M162.5 500 L167.5 506.2"/>
<path d="M210.5 445 L220 445"/>
<path d="M212.5 446.2 L210 465 L208.8 480 L211.2 485"/>
<path d="M220 452.5 L216.2 455 L217 461.2 L220 463.8"/>
<path d="M205 490 L220 485"/>
<path d="M185 510 L205 500 L210 497.5"/>
<path d="M205 503.8 L208.8 505 L210 500"/>
<path d="M142.5 360 L147.5 365"/>
<path d="M152.5 360 L152.5 367.5 L150 367.5"/>
<path d="M222.5 375 L225 437.5 L223.8 445"/>
<path d="M250 375 L248.8 445 L243.8 450 L245 460 L246.2 470" stroke-dasharray="16 3" stroke-width="1.65"/>
<path d="M245 376.2 L242.5 390 L238.8 400 L232.5 420 L227.5 442.5" stroke-dasharray="20 4"/>
<path d="M247.5 402.5 L235 422.5"/>
<path d="M252.5 378.8 L270 392.5 L272.5 400 L272.5 430 L290 442.5 L292.5 450 L293.8 473.8 L290 476.2 L257.5 461.2"/>
<path d="M277.5 375 L281.2 371.2"/>
<path d="M286.2 390 C285.6 391.2 282.9 395.2 282.5 397.5 C282.1 399.8 282.1 401.9 283.8 403.8 C285.4 405.6 289.8 408.8 292.5 408.8 C295.2 408.8 297.7 404.6 300 403.8 C302.3 402.9 305.2 403.8 306.2 403.8"/>
<path d="M316.2 373.8 C315 375.2 310 379.4 308.8 382.5 C307.5 385.6 307.5 389.6 308.8 392.5 C310 395.4 313.3 399 316.2 400 C319.2 401 324.6 399 326.2 398.8" stroke-dasharray="16 4"/>
<path d="M327.5 366.2 C328.8 367.1 333.5 368.8 335 371.2 C336.5 373.8 336 379.6 336.2 381.2"/>
<path d="M330 368.8 L337.5 373.8"/>
<path d="M350 360 C351.9 360.8 359.2 362.9 361.2 365 C363.3 367.1 362.9 370.4 362.5 372.5 C362.1 374.6 359.4 376.7 358.8 377.5"/>
<path d="M402.5 360 L410 368.8"/>
<path d="M410 376.2 L375 392.5 L360 403.8 L330 425 L315 437.5 L307.5 447.5 L306.2 456.2"/>
<path d="M306.2 456.2 L297.5 462.5 L296.2 470 L297.5 473.8"/>
<path d="M306.2 456.2 L315 454.5"/>
<path d="M302.5 460 L306.2 465 L313.8 469.5"/>
<path d="M367.5 407.5 L382.5 415 L400 422.5 L410 422"/>
<path d="M363.8 418.8 L380 430 L387.5 437.5 L388 447.5"/>
<path d="M400 422.5 L396.2 432.5 L395 446.2"/>
<path d="M323.8 443.8 L345 457.5 L370 471.2 L390 481.2" stroke-dasharray="40 4"/>
<path d="M337.5 482.5 L385 503.8" stroke-dasharray="40 4"/>
<path d="M410 467.5 L400 477.5 L395 485 L392.5 510"/>
<path d="M220 446.2 L226.2 443.8 L231.2 450 L232.5 460 L230 470 L232.5 480 L230 490 L225 496.2 L222.5 503.8"/>
<path d="M220 455 L225 453.8"/>
<path d="M220 462.5 L225 463.8 L222.5 472.5"/>
<path d="M235 440 L237.5 450 L240 465 L242.5 495"/>
<path d="M227.5 491.2 L241.2 493.8"/>
<path d="M245 470 L252.5 473.8"/>
<path d="M247.5 478.8 L257.5 483.8"/>
<path d="M246.2 470 L248.8 490 L251.2 500 L247.5 505 L252.5 510"/>
<path d="M362.5 509.5 L372.5 509.5"/>
<path d="M128.8 463.8 C130.2 465.2 134.2 470 137.5 472.5 C140.8 475 145.4 475.8 148.8 478.8 C152.1 481.7 154.6 485.8 157.5 490 C160.4 494.2 163.8 500.4 166.2 503.8 C168.8 507.1 169.4 508.8 172.5 510 C175.6 511.2 180.8 511.9 185 511.2 C189.2 510.6 193.8 508.8 197.5 506.2 C201.2 503.8 205 499.6 207.5 496.2 C210 492.9 210.2 488.3 212.5 486.2 C214.8 484.2 219.8 484.2 221.2 483.8" stroke-width="1.65"/>
<path d="M143.8 485 C145.2 486.9 149.4 492.3 152.5 496.2 C155.6 500.2 159.4 505.4 162.5 508.8 C165.6 512.1 167.9 514.4 171.2 516.2 C174.6 518.1 178.1 519.8 182.5 520 C186.9 520.2 192.7 519 197.5 517.5 C202.3 516 207.3 513.8 211.2 511.2 C215.2 508.8 218.5 505.4 221.2 502.5 C224 499.6 226.5 495.2 227.5 493.8" stroke-width="1.65"/>
<path d="M218.8 452.5 C218.3 453.5 216 456.9 216.2 458.8 C216.5 460.6 218.5 463.1 220 463.8 C221.5 464.4 224.2 462.7 225 462.5"/>
<path d="M210 502.5 L205 505 L208.8 502"/>
<path d="M248.8 480 L257.5 483.8"/>
<path d="M525.5 363.8 L525.5 422.5" stroke-dasharray="7 3"/>
<path d="M525.5 396.2 L507.5 396.2 L507.5 446.2" stroke-dasharray="7 3"/>
<path d="M509.9 426.4 C510.6 426 512.7 424.4 514.5 423.8 C516.2 423.2 518.2 422.9 520.4 422.9 C522.6 422.9 525.5 423.2 527.6 423.8 C529.7 424.4 531.5 425.2 532.9 426.4 C534.3 427.7 535.3 429.4 536.2 431.1 C537.1 432.7 537.8 435.4 538.2 436.3" stroke-width="2.2"/>
<path d="M538.2 436.3 C537.9 437.2 537.9 440 536.8 441.6 C535.7 443.1 532.5 444.9 531.6 445.5" stroke-width="1.5"/>
<path d="M501.3 429.7 L498.7 431.1 L491.4 432.4 L489.5 435.7 L482.9 437.6 L482.6 449.5 L485.5 452.1 L494.7 454.7 L500 456.1 L501.3 456.7" stroke-width="1.9"/>
<path d="M501.3 429.7 L509.9 426.4" stroke-width="1.5"/>
<path d="M482.6 444.5 L490.8 445.5 L500 448.2 L500.7 456.1" stroke-width="1.6"/>
<path d="M501.3 456.7 L509.2 456.1 L514.5 454.1 L521.1 455.4 L530.3 456.1 L536.8 452.1 L543.4 448.2 L546.1 452.1" stroke-width="1.9"/>
<path d="M500 452.1 L507.9 452.1 L514.5 450.8 L525 452.1 L532.9 449.5 L540.8 444.2" stroke-width="1.5"/>
<path d="M500.3 429.1 L500.8 437.9" stroke-width="1.8"/>
<path d="M496.7 432.4 L504.6 433.2" stroke-width="1.8"/>
<path d="M490.8 435.7 L492.1 438.9 L489.5 439.6"/>
<path d="M499.3 443.6 L503.3 444.9 L503.3 448.2 L507.9 449.5 L513.8 447.5" stroke-width="1.6"/>
<path d="M523.7 446.8 C523.8 446.5 523.8 445.3 524.1 444.9 C524.4 444.4 525.1 444.2 525.7 444.2 C526.2 444.2 526.9 444.6 527.2 445 C527.6 445.4 527.6 446.5 527.6 446.8" stroke-width="1.4"/>
<path d="M509.9 431.7 L510.5 435"/>
<path d="M538.2 427.8 C538.3 426.8 539.4 426 540.1 425.8 C540.9 425.6 541.9 425.4 542.8 426.4 C543.6 427.5 544.6 429.8 545.4 432.4 C546.2 434.9 547 438.7 547.4 441.6 C547.7 444.4 547.6 447.7 547.4 449.5 C547.1 451.2 546.6 452.1 546.1 452.1 C545.5 452.1 544.7 451.4 544.1 449.5 C543.4 447.5 542.9 443.2 542.1 440.3 C541.3 437.3 540.1 433.8 539.5 431.7 C538.8 429.6 538 428.8 538.2 427.8Z" stroke-width="1.7"/>
<path d="M544.7 427.8 L557.2 426.4 L560.5 429.7 L561.8 436.3 L561.2 445.5 L557.9 446.8 L548 447.5" stroke-width="1.9"/>
<path d="M410 370 L430 366.2 L452.5 363.8 L462.5 360"/>
<path d="M462.5 361.2 L466.2 372.5 L470 377.5 L471.2 385 L492.5 383.8 L491.2 380 L500 380.5 L502.5 392.5 L505 396.2"/>
<path d="M461.2 387.5 L462.5 377.5 L470 376.2"/>
<path d="M461.2 387.5 L445 397.5 L425 403.8 L423.8 415"/>
<path d="M435 405 L435 416.2"/>
<path d="M427.5 378.8 L445 397.5 L456.2 413.8"/>
<path d="M410 422.5 L435 417.5 L456.2 414.5 L482.5 422.5"/>
<path d="M410 428.8 C412.1 429.4 416.2 432.1 422.5 432.5 C428.8 432.9 439.4 432.1 447.5 431.2 C455.6 430.4 467.3 428.1 471.2 427.5"/>
<path d="M447.5 400 L455 413.8 L472.5 422.5"/>
<path d="M468.8 390 L475 402.5 L482.5 417.5 L483.8 425"/>
<path d="M492.5 360 L520 377.5 L537.5 387.5 L553.8 400 L555 405 L562.5 411.2 L567.5 420 L568.8 433.8" stroke-dasharray="30 4"/>
<path d="M475 360 L482.5 375 L483.8 381.2"/>
<path d="M432.5 360 L428.8 365"/>
<path d="M410 465 L417.5 457.5 L430 447.5 L432.5 442.5 L442.5 445 L470 435 L471.2 442.5 L467.5 447.5"/>
<path d="M430 447.5 C431 449.6 434.2 455.8 436.2 460 C438.3 464.2 441.2 467.9 442.5 472.5 C443.8 477.1 443.5 485 443.8 487.5"/>
<path d="M435 460 L460 470 L485 478.8 L507.5 483.8"/>
<path d="M455 445 C455.8 447.1 458.8 452.9 460 457.5 C461.2 462.1 462.3 466.7 462.5 472.5 C462.7 478.3 461.7 486.2 461.2 492.5 C460.8 498.8 460.2 507.1 460 510"/>
<path d="M410 477.5 L440 490 L475 502.5 L485 506.2"/>
<path d="M477.5 457.5 L482.5 470 L483.8 496.2"/>
<path d="M497.5 460 L496.2 480 L492.5 500"/>
<path d="M482.5 480 L502.5 481.2"/>
<path d="M430 485 L423.8 495 L421.2 510"/>
<path d="M442.5 490 L441.2 510"/>
<path d="M420 503.8 L442.5 510"/>
<path d="M463.8 502.5 L463.8 510"/>
<path d="M505 462.5 L515 485 L528.8 510"/>
<path d="M508.8 461.2 L521.2 482.5 L540 510"/>
<path d="M517.5 465 L527.5 485 L535 500 L546.2 507.5"/>
<path d="M527.5 485 L530 480 L535 485 L532.5 492.5"/>
<path d="M540 460 L541.2 465 L535 472.5 L530 480"/>
<path d="M540 470 L556.2 466.2 L555 475 L557.5 490 L553.8 495 L537.5 497.5"/>
<path d="M555 453.8 L556.2 460 L560 461.2 L558.8 465"/>
<path d="M546.2 507.5 L551.2 495"/>
<path d="M141.2 510 C141.7 511.2 141.9 514.8 143.8 517.5 C145.6 520.2 148.1 523.1 152.5 526.2 C156.9 529.4 165 533.6 170 536.2 C175 538.9 180.4 541 182.5 542"/>
<path d="M182.5 542 L190 541.2 L220 538" stroke-dasharray="16 4"/>
<path d="M161.2 510 C162.1 511 163.8 514.5 166.2 516.2 C168.8 518 172.7 519.8 176.2 520.5 C179.8 521.2 182.7 521.2 187.5 520.5 C192.3 519.8 200.4 517.4 205 516.2 C209.6 515.1 212.5 513.5 215 513.8 C217.5 514 219.2 516.9 220 517.5"/>
<path d="M170 510 C171.2 510.4 174.6 512.5 177.5 512.5 C180.4 512.5 185.8 510.4 187.5 510"/>
<path d="M212.5 513.8 L216.2 510"/>
<path d="M220 537.5 L245 538.8 L265 535 L268.8 540 L278.8 542.5 L287.5 542.5" stroke-dasharray="30 3"/>
<path d="M252.5 510 L253.8 520 L257.5 526.2 L266.2 530 L272.5 533.8 L271.2 540"/>
<path d="M257.5 510 L280 532.5 L279.5 542"/>
<path d="M220 515 L231.2 528.8"/>
<path d="M300 515 C300.4 516.7 302.5 521.9 302.5 525 C302.5 528.1 301.7 531 300 533.8 C298.3 536.5 294.2 538.5 292.5 541.2 C290.8 544 291 546.5 290 550 C289 553.5 286.9 560.4 286.2 562.5"/>
<path d="M288.8 548.8 L278.8 548.8 L275.5 553.8 L277 560 L285 566.2 L295 570"/>
<path d="M277 560 L295 570 L320 582.5 L345 593.8 L362.5 599.5 L385 598 L410 595" stroke-dasharray="40 3"/>
<path d="M294.5 571.2 L294.5 585 L300 591.2 L306.2 592.5 L320 601.2 L340 612.5 L356.2 622.5 L365 627.5 L375 627.5 L395 625.5 L410 623" stroke-dasharray="40 3"/>
<ellipse cx="365.8" cy="514.5" rx="10.8" ry="4.2" transform="rotate(0 365.8 514.5)"/>
<path d="M355 515 L354.5 526.2 L365 530 L376.2 526.2 L376.8 515"/>
<path d="M392.5 510 L390 525 L382.5 542.5 L377.5 553.8 L370 560 L368.8 566.2 L371.2 578.8 L375 585 L390 584.5 L400 587.5 L410 592.5"/>
<path d="M397.5 525 L410 530"/>
<path d="M410 595 L440 590 L470 585 L495 582"/>
<path d="M410 623 C414.2 622.3 428.3 620.3 435 618.8 C441.7 617.2 445.8 615.8 450 613.8 C454.2 611.7 454.6 608.5 460 606.2 C465.4 604 477.1 601.9 482.5 600 C487.9 598.1 490 597.1 492.5 595 C495 592.9 496.9 589.8 497.5 587.5 C498.1 585.2 497.1 583.1 496.2 581.2 C495.4 579.4 493.1 577.1 492.5 576.2"/>
<path d="M495 582.5 L520 576.2 L525 565 L526.2 550 L523.8 542.5 L517.5 539.5 L535 539.5 L550 536.2 L555 530 L553.8 515 L548.8 510" stroke-dasharray="30 3"/>
<path d="M431.2 545 L485 535 L531.2 526.2" stroke-dasharray="40 3"/>
<path d="M410 595 L455 545 L465 535" stroke-dasharray="30 3"/>
<path d="M492.5 576.2 L522.5 531.2" stroke-dasharray="30 3"/>
<path d="M430 573.8 L486.2 566.2"/>
<path d="M452.5 552.5 L492.5 547.5"/>
<path d="M455 542.5 L453.8 566.2"/>
<path d="M480 535 L476.2 563.8 L471.2 585" stroke-dasharray="20 3"/>
<path d="M453.8 575 L452.5 588.8"/>
<path d="M420 585 L427.5 582.5 L433.8 587.5 L440 590"/>
<path d="M453.8 581.2 L458.8 577.5 L466.2 585"/>
<path d="M472.5 583.8 L480 582.5"/>
<path d="M487.5 577.5 L496.2 575.5 L498.8 582.5"/>
<path d="M442.5 536.2 L463.8 510"/>
<path d="M482.5 510 L481.2 526.2"/>
<path d="M492.5 510 L510 517.5 L525 522.5 L535 520 L528.8 510"/>
<path d="M418.8 521.2 C419.8 522.5 422.3 527.5 425 528.8 C427.7 530 432.5 530.2 435 528.8 C437.5 527.3 439.6 523.1 440 520 C440.4 516.9 437.9 511.7 437.5 510"/>
<path d="M410 531.2 L422.5 531.2"/>
<path d="M440 528.8 L442.5 510"/>
</g>
<g>
<text class="lb" x="127.8" y="105.3" font-size="22.5" textLength="62" lengthAdjust="spacingAndGlyphs">83530</text>
<text class="lb" x="150.5" y="284.3" font-size="22.5" textLength="74.4" lengthAdjust="spacingAndGlyphs">89467B</text>
<text class="lb" x="504.8" y="330.2" font-size="22.5" textLength="62" lengthAdjust="spacingAndGlyphs">89615</text>
<text class="lb" x="597.2" y="444.2" font-size="22.5" textLength="62" lengthAdjust="spacingAndGlyphs">84540</text>
<text class="lb" x="463.2" y="822.6" font-size="22.5" textLength="62" lengthAdjust="spacingAndGlyphs">89465</text>
<text class="lb" x="597.8" y="278.2" font-size="19" textLength="120.4" lengthAdjust="spacingAndGlyphs">91551-80835</text>
<text class="lb" x="566.3" y="358.7" font-size="19" textLength="153.3" lengthAdjust="spacingAndGlyphs">91651-40620(2)</text>
<text class="lb" x="160.6" y="370.2" font-size="19" textLength="120.4" lengthAdjust="spacingAndGlyphs">87616-42020</text>
<text class="sm" x="684.5" y="1091.6" font-size="14.6" textLength="51" lengthAdjust="spacingAndGlyphs" transform="translate(0 1091.6) scale(1 1.12) translate(0 -1091.6)">84D630</text>
</g>
</svg>
</body></html>
